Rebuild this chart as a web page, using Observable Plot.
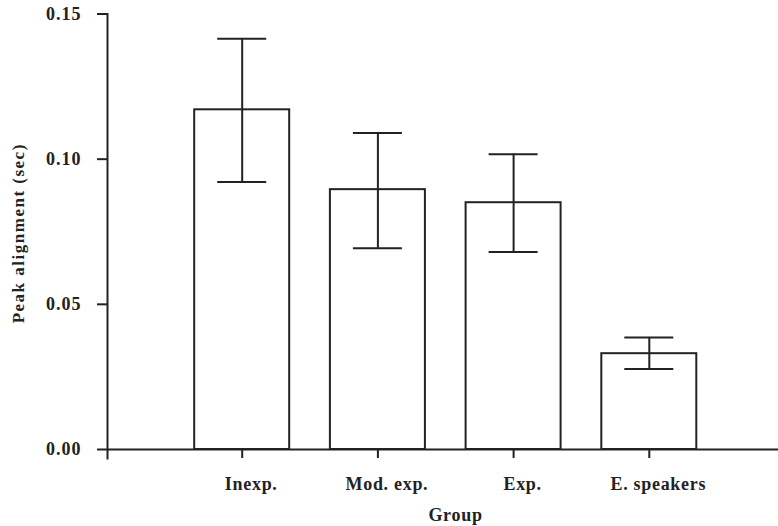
<!DOCTYPE html>
<html>
<head>
<meta charset="utf-8">
<script src="https://cdn.jsdelivr.net/npm/d3@7"></script>
<script src="https://cdn.jsdelivr.net/npm/@observablehq/plot@0.6"></script>
<style>
  html, body { margin: 0; padding: 0; background: #fff; }
  #chart svg { display: block; }
  #chart text { font-family: "Liberation Serif", "Times New Roman", serif; font-weight: bold; fill: #222; }
  [aria-label="y-axis tick label"] text { letter-spacing: 1px; }
  [aria-label="x-axis tick label"] text { letter-spacing: 0.7px; }
  .ylab text { letter-spacing: 1.5px; }
  .xlab text { letter-spacing: 0.7px; }
</style>
</head>
<body>
<div id="chart"></div>
<script>
// Data
const groups = ["Inexp.", "Mod. exp.", "Exp.", "E. speakers"];
const means  = [0.117, 0.0895, 0.085, 0.033];
const upper  = [0.1415, 0.109, 0.1017, 0.0386];
const lower  = [0.0921, 0.0693, 0.068, 0.0277];
const yTicks = [0, 0.05, 0.10, 0.15];
const xTitle = "Group";
const yTitle = "Peak alignment (sec)";

const data = groups.map((g, i) => ({group: g, mean: means[i], upper: upper[i], lower: lower[i]}));
const ink = "#222";

const chart = Plot.plot({
  width: 778,
  height: 526,
  marginLeft: 107,
  marginRight: 0,
  marginTop: 13.5,
  marginBottom: 68,
  style: {fontFamily: "Liberation Serif, serif", fontWeight: "bold", fontSize: "18px", color: ink, background: "#fff"},
  x: {type: "band", domain: groups, range: [106, 784.5], paddingInner: 0.3, paddingOuter: 0.65, round: false},
  y: {domain: [0, 0.15], range: [449, 13.5]},
  marks: [
    Plot.barY(data, {x: "group", y: "mean", fill: "white", stroke: ink, strokeWidth: 2}),
    Plot.ruleX(data, {x: "group", y1: "lower", y2: "upper", stroke: ink, strokeWidth: 2}),
    Plot.tickY(data, {x: "group", y: "upper", stroke: ink, strokeWidth: 2, insetLeft: 23, insetRight: 23}),
    Plot.tickY(data, {x: "group", y: "lower", stroke: ink, strokeWidth: 2, insetLeft: 23, insetRight: 23}),
    Plot.ruleY([0], {stroke: ink, strokeWidth: 2}),
    Plot.frame({anchor: "left", stroke: ink, strokeWidth: 2}),
    Plot.axisY({ticks: yTicks, tickFormat: d3.format(".2f"), tickSize: 10, tickPadding: 16,
      label: null, stroke: ink, strokeWidth: 2, fontSize: 18, fontWeight: "bold"}),
    Plot.axisX({anchor: "bottom", tickSize: 9, dy: -9, tickPadding: 19, label: null,
      stroke: ink, strokeWidth: 2, fontSize: 18, fontWeight: "bold"}),
    Plot.text(groups, {x: d => d, text: d => d, frameAnchor: "bottom", lineAnchor: "top", dx: 9, dy: 19,
      fontSize: 18, fontWeight: "bold", className: "xticklab"}),
    Plot.text([xTitle], {text: d => d, frameAnchor: "bottom", lineAnchor: "bottom", dx: 12.5, dy: 62,
      fontSize: 18, fontWeight: "bold", className: "xlab"}),
    Plot.text([yTitle], {text: d => d, frameAnchor: "left", textAnchor: "middle", rotate: -90, dx: -89, dy: -3,
      fontSize: 17, fontWeight: "bold", className: "ylab"})
  ]
});
// hide the axis' own tick labels (replaced by the shifted text mark above)
chart.querySelectorAll('[aria-label="x-axis tick label"]').forEach(g => g.remove());
document.getElementById("chart").appendChild(chart);
</script>
<style>
  .xticklab text { letter-spacing: 0.7px; }
</style>
</body>
</html>
